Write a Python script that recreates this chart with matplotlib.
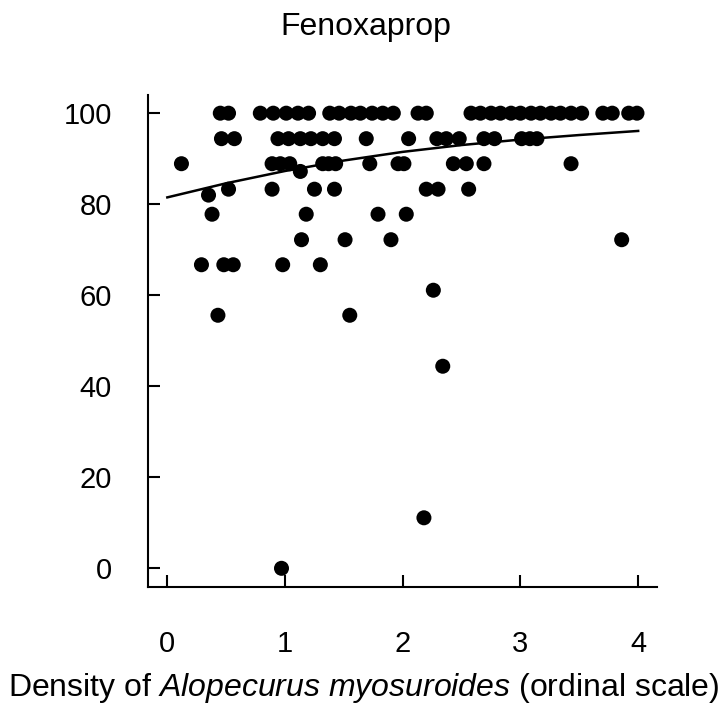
import numpy as np
import matplotlib

matplotlib.use("Agg")
import matplotlib.pyplot as plt

plt.rcParams.update({
    "font.family": "Liberation Sans",
    "mathtext.fontset": "custom",
    "mathtext.rm": "Liberation Sans",
    "mathtext.it": "Liberation Sans:italic",
})

# observed points: density score (jittered) and % control, read row by row
dens_100 = [0.45, 0.52, 0.79, 0.90, 1.01, 1.11, 1.20, 1.38, 1.46, 1.56, 1.64, 1.74, 1.83,
            1.92, 2.13, 2.20, 2.58, 2.66, 2.75, 2.83, 2.92, 3.00, 3.09, 3.17, 3.26, 3.34,
            3.43, 3.52, 3.70, 3.78, 3.92, 3.99]
dens_944 = [0.46, 0.57, 0.94, 1.03, 1.13, 1.22, 1.32, 1.42, 1.69, 2.05, 2.29, 2.37,
            2.48, 2.69, 2.78, 3.01, 3.08, 3.14]
dens_889 = [0.12, 0.89, 0.96, 1.04, 1.32, 1.37, 1.43, 1.72, 1.96, 2.01, 2.43, 2.54, 2.69, 3.43]
dens_833 = [0.52, 0.89, 1.25, 1.42, 2.20, 2.30, 2.56]
dens_778 = [0.38, 1.18, 1.79, 2.03]
dens_722 = [1.14, 1.51, 1.90, 3.86]
dens_667 = [0.29, 0.48, 0.56, 0.98, 1.30]
dens_556 = [0.43, 1.55]
odd_dens = [1.13, 0.35, 2.26, 2.34, 2.18, 0.97]
odd_ctrl = [87.2, 82.0, 61.1, 44.4, 11.1, 0.0]

rows = [(dens_100, 100.0), (dens_944, 94.4), (dens_889, 88.9), (dens_833, 83.3),
        (dens_778, 77.8), (dens_722, 72.2), (dens_667, 66.7), (dens_556, 55.6)]

# fitted curve
fit_x = [0.0, 0.5, 1.0, 1.5, 2.0, 2.5, 3.0, 3.5, 4.0]
fit_y = [81.5, 84.6, 87.3, 89.6, 91.5, 93.0, 94.2, 95.2, 96.1]

x = np.concatenate([np.array(d) for d, _ in rows] + [np.array(odd_dens)])
y = np.concatenate([np.full(len(d), v) for d, v in rows] + [np.array(odd_ctrl)])

fig = plt.figure(figsize=(7.27, 7.12), dpi=100)
ax = fig.add_axes([0.2036, 0.1756, 0.7001, 0.691])
ax.scatter(x, y, s=117, color="black", edgecolors="none", zorder=3)
ax.plot(fit_x, fit_y, color="black", lw=1.8, zorder=4)

ax.set_xlim(-0.164, 4.16)
ax.set_ylim(-4.1, 104)
ax.set_xticks([0, 1, 2, 3, 4])
ax.set_yticks([0, 20, 40, 60, 80, 100])
ax.tick_params(direction="in", length=8.5, width=1.5, labelsize=21)
ax.tick_params(axis="x", pad=31)
ax.tick_params(axis="y", pad=26)
for s in ("top", "right"):
    ax.spines[s].set_visible(False)
for s in ("left", "bottom"):
    ax.spines[s].set_linewidth(1.5)

fig.text(0.503, 1 - 27 / 712, "Fenoxaprop", ha="center", va="center", fontsize=23)
fig.text(0.5, 1 - 688 / 712, r"Density of $\mathit{Alopecurus\ myosuroides}$ (ordinal scale)",
         ha="center", va="center", fontsize=23)

fig.savefig("out.png", dpi=100)
